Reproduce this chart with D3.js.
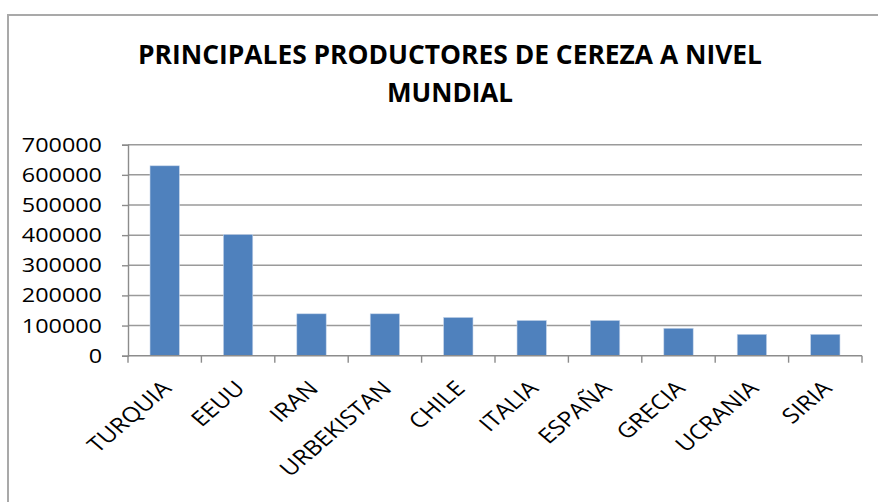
<!DOCTYPE html>
<html>
<head>
<meta charset="utf-8">
<script src="https://cdn.jsdelivr.net/npm/d3@7"></script>
<style>
  html, body { margin: 0; padding: 0; background: #fff; }
  svg { display: block; }
  text { font-family: "Open Sans", "Noto Sans", sans-serif; }
</style>
</head>
<body>
<svg id="chart" width="878" height="502"></svg>
<script>
const categories = ["TURQUIA", "EEUU", "IRAN", "URBEKISTAN", "CHILE", "ITALIA", "ESPAÑA", "GRECIA", "UCRANIA", "SIRIA"];
const values = [630000, 402000, 139000, 139000, 127000, 117000, 117000, 91000, 71000, 71000];
const yTicks = [0, 100000, 200000, 300000, 400000, 500000, 600000, 700000];
const titleLines = ["PRINCIPALES PRODUCTORES DE CEREZA A NIVEL", "MUNDIAL"];

const svg = d3.select("#chart");
const SX = 1.17;
const plot = { left: 128, right: 862, top: 144.7, bottom: 355.7 };

// frame
svg.append("path")
  .attr("d", "M8,502 V15 H878")
  .attr("fill", "none").attr("stroke", "#a9a9a9").attr("stroke-width", 2);

// title
const titleW = [624, 126];
const titleY = [64, 102];
titleLines.forEach((t, i) => {
  svg.append("text")
    .attr("x", 450 - titleW[i] / 2).attr("y", titleY[i])
    .attr("textLength", titleW[i]).attr("lengthAdjust", "spacingAndGlyphs")
    .attr("font-size", 26).attr("font-weight", 700).attr("fill", "#000")
    .text(t);
});

const x = d3.scaleBand().domain(categories).range([plot.left, plot.right]).paddingInner(0).paddingOuter(0);
const y = d3.scaleLinear().domain([0, 700000]).range([plot.bottom, plot.top]);

// gridlines
svg.append("g").selectAll("line").data(yTicks.filter(d => d > 0)).join("line")
  .attr("x1", plot.left).attr("x2", plot.right)
  .attr("y1", d => y(d)).attr("y2", d => y(d))
  .attr("stroke", "#9a9a9a").attr("stroke-width", 1.5);

// y axis
const yAxis = svg.append("g").attr("transform", `translate(${plot.left},0)`)
  .call(d3.axisLeft(y).tickValues(yTicks).tickSize(6).tickFormat(""));
yAxis.select(".domain").attr("stroke", "#8c8c8c").attr("stroke-width", 1.4);
yAxis.selectAll(".tick line").attr("stroke", "#8c8c8c").attr("stroke-width", 1.4);

svg.append("g").selectAll("text").data(yTicks).join("text")
  .attr("transform", d => `translate(102,${y(d)}) scale(${SX},1)`)
  .attr("text-anchor", "end").attr("dy", "0.35em")
  .attr("font-size", 20).attr("fill", "#000")
  .text(d => d3.format("d")(d));

// bars
const bw = x.bandwidth() * 0.4;
svg.append("g").selectAll("rect").data(categories).join("rect")
  .attr("x", d => x(d) + (x.bandwidth() - bw) / 2)
  .attr("y", (d, i) => y(values[i]))
  .attr("width", bw)
  .attr("height", (d, i) => y(0) - y(values[i]))
  .attr("fill", "#4f81bd")
  .attr("stroke", "#c5d5ea").attr("stroke-width", 0.6);

// x axis
const xAxis = svg.append("g").attr("transform", `translate(0,${plot.bottom})`);
xAxis.append("line").attr("x1", plot.left).attr("x2", plot.right)
  .attr("stroke", "#8c8c8c").attr("stroke-width", 1.4);
const bounds = categories.map(c => x(c)).concat([plot.right]);
xAxis.selectAll("line.tk").data(bounds).join("line").attr("class", "tk")
  .attr("x1", d => d).attr("x2", d => d).attr("y1", 0).attr("y2", 7)
  .attr("stroke", "#8c8c8c").attr("stroke-width", 1.4);

// x labels
svg.append("g").selectAll("text").data(categories).join("text")
  .attr("transform", d => `translate(${x(d) + x.bandwidth() / 2 + 8},${plot.bottom + 34}) scale(${SX},1) rotate(-45)`)
  .attr("text-anchor", "end")
  .attr("font-size", 21).attr("fill", "#000")
  .text(d => d);
</script>
</body>
</html>
